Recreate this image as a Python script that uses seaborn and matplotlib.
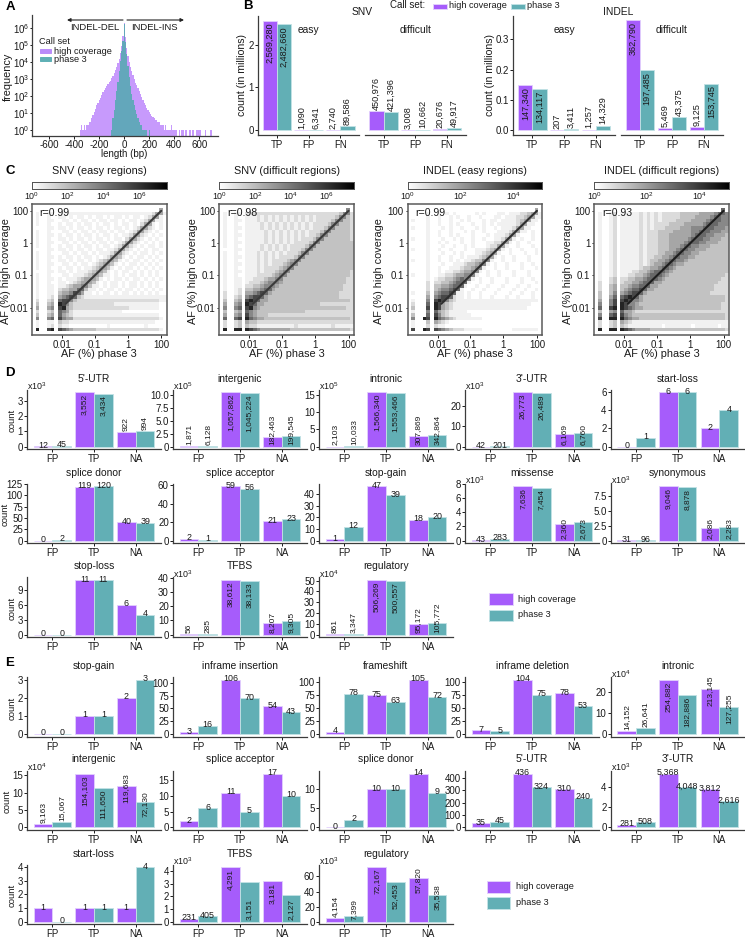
import numpy as np
import pandas as pd
import matplotlib
matplotlib.use('Agg')
import matplotlib.pyplot as plt
from matplotlib.colors import LogNorm
from matplotlib.patches import Rectangle
from matplotlib.ticker import NullLocator
import seaborn as sns

# A: length histogram, 10 bp bins
a_lengths = list(range(-350, 710, 10))
a_high = [1, 2, 1, 2, 1, 2, 2, 3, 3, 5, 8, 12, 18, 28, 40, 55, 80, 110, 170, 230, 290, 380, 480, 620, 800,
          1100, 1500, 2200, 3300, 5000, 8500, 15000, 35000, 90000, 350000, 2000000,
          300000, 70000, 22000, 9500, 5000, 2800, 1700, 1000, 600, 420, 300, 190, 130, 85, 60, 40, 28, 20, 14,
          12, 9, 7, 6, 5, 4, 4, 3, 3, 2, 2, 2, 1, 2, 1, 1, 1, 1, 2, 1, 1, 1, 1, 0, 1, 0, 1, 1, 0, 1, 1, 0, 1, 1,
          0, 1, 0, 0, 1, 1, 1, 1, 0, 0, 0, 1, 0, 0, 0, 1, 1]
a_phase3 = [0] * 25 + [1, 5, 16, 60, 200, 700, 3000, 12000, 45000, 180000, 1800000,
            150000, 28000, 5500, 1300, 400, 130, 60, 28, 15, 9, 5, 3, 2, 2, 1, 1, 1, 1, 0, 1] + [0] * 50

# B: call set comparison, SNV and INDEL
b_cats = ['TP', 'FP', 'FN']
snv_easy_high = [2569280, 1090, 2740]
snv_easy_phase3 = [2482660, 6341, 89586]
snv_diff_high = [450976, 3008, 20676]
snv_diff_phase3 = [421396, 10662, 49917]
indel_easy_high = [147340, 207, 1257]
indel_easy_phase3 = [134117, 3411, 14329]
indel_diff_high = [362790, 5469, 9125]
indel_diff_phase3 = [197485, 43375, 153745]

# C: log density grids, one digit per cell (0 white ... 9 black), top row first
snv_easy_grid = [
    "0",
    "0000000 000000000000000000000000000 4",
    "0100110 1111111111111111111111111 2 44 1",
    "0100100 110101101011010110101101 2 44 10",
    "0100110 01101011010110110101101 2 44 110",
    "0100100 1011010110101101011010 2 44 1010",
    "0000110 110101101011010110101 2 44 21010",
    "0100100 01101011010110101101 2 44 210100",
    "0100110 1011010110101101011 2 44 2101010",
    "0100100 110101101011010110 2 44 21010100",
    "0100110 0110101101011010 12 44 210101010",
    "0100100 101101011010110 12 44 2101011010",
    "0000110 11010110101101 12 44 21010101100",
    "0100100 0110101101011 12 44 210101101010",
    "0100110 101101011010 12 44 3101011010100",
    "0100100 1101011010 123 44 31010110101010",
    "0100110 011010110 123 44 310101101010100",
    "0100100 10110101 123 44 3101011010101010",
    "0000110 1101011 123 44 31010110101010100",
    "0100100 011011 123 44 311010101101010100",
    "0100110 1011 1234 44 3101011010110101010",
    "0100100 110 1234 44 31010110101101010100",
    "0100110 1 12344 55 311010110101101010100",
    "0100110 23344 66 3110101101011010101010",
    "0100110 3445 76 41101011010110101010100",
    "0100120 456 76 321111111111111111111111",
    "0200230 67 75 3222222222222222222222211",
    "0300340 8 75 32222222222211111111111100",
    "0400450 78 432222222222222221111111100",
    "0200230 65 421111111111111000000000000",
    "0300340 64 321111111111111111111111100",
    "0500560 75 442222222222222222222222210",
    "0100110 32 211111111111111111111111000",
    "0100120 21 100000000001000000000100000",
    "0800780 76 543333332222222222222222210",
    "0",
]
snv_diff_grid = [
    "0",
    "0000000 000000000000000000000000000 5",
    "0100110 2222222222222222222222222 3 55 2",
    "0100100 111212121212121212122222 3 55 32",
    "0100110 11121212121212121212222 3 55 332",
    "0100100 1111212121212121212222 3 55 3332",
    "0100110 111121212121212121222 3 55 33332",
    "0100100 11111212121212121222 3 55 333332",
    "0100110 1111121212121212122 3 55 3333332",
    "0100100 111112121212121222 3 55 33333332",
    "0100110 1111121212121222 23 55 333333333",
    "0100100 111121212121222 23 55 3333333333",
    "0000110 11112121212122 23 55 33333333333",
    "0100100 1112121212122 23 55 333333333333",
    "0100110 111212121222 23 55 3333333333333",
    "0100100 1112121222 234 55 33333333333333",
    "0100110 111212122 234 55 333333333333333",
    "0100100 11121222 234 55 3333333333333333",
    "0100110 1112122 234 55 33333333333333332",
    "0100100 111222 234 55 333333333333333332",
    "0100110 1122 2344 55 3333333333333333322",
    "0100110 122 2345 55 43333333333333333322",
    "0100110 2 23345 55 433333333333333333222",
    "0100120 33445 66 4333333333333333333222",
    "0200120 4456 76 43333333333333333332222",
    "0200230 567 76 433333333333333333332222",
    "0300340 78 76 4433333333333333333333332",
    "0400450 8 76 44333333333333333222222222",
    "0500560 78 543333333333333333333333322",
    "0300340 65 433333333333332222222222222",
    "0400450 75 433322222222222222222222222",
    "0600670 86 544333333333333333333333332",
    "0200230 43 322222222222222222222222222",
    "0200230 32 211111111112111111111211111",
    "0800880 87 654444444433333333333333332",
    "0",
]
indel_easy_grid = [
    "0",
    "0000000 000000000000000000000000000 4",
    "0000010 0101010000010100011011 1223 44 1",
    "0000010 010010100100100011011 1223 44 11",
    "0100010 01001001010001011011 1123 44 110",
    "0000010 0100101000100101011 1112 44 1100",
    "0100010 0010100100010100101 112 44 11000",
    "0000010 010010001010010001 112 44 110100",
    "0000010 01001010001000101 112 44 1000100",
    "0100010 0010010100100100 112 44 10100100",
    "0000010 010100010010001 122 44 101001000",
    "0000010 00100100101000 122 44 1001000100",
    "0100010 010010001001 1123 44 10100100010",
    "0000010 00100101000 1123 44 100100010010",
    "0000010 0100100101 1123 44 1010010001000",
    "0100010 01001010 11233 55 10010010001000",
    "0000010 0010011 12334 55 101001000100100",
    "0000010 01001 112334 55 1001001000100010",
    "0000010 0101 122344 55 10100100010001000",
    "0100010 01 1223445 55 100100100010001000",
    "0000010 12233456 55 1010010001000100100",
    "0000020 2233456 66 10010010001000100010",
    "0000020 334456 66 100100100010001001000",
    "0000020 34556 76 1001001000100010010010",
    "0100030 4566 76 11010010001000100100100",
    "0000040 567 76 211010010010001001000100",
    "0100050 78 75 3211111111111111111111110",
    "0200060 8 74 32111111111111111111111000",
    "0300070 87 432111111111111111111110000",
    "0100050 64 321111100000000000000000000",
    "0300060 75 321111110000000000000000000",
    "0500870 86 543211111110000000000000000",
    "0100030 43 210000000000000000000000000",
    "0100020 21 100000000000000000000000000",
    "0700870 76 543222111110000000011111110",
    "0",
]
indel_diff_grid = [
    "0",
    "0000000 000000000000000000000000000 6",
    "0100120 11111212121222223333344445 66 5",
    "0100120 1111121212122222333344445 66 55",
    "0100120 111112121212222333344445 66 655",
    "0100120 11111212122223333444445 66 6555",
    "0100120 1111121212223333444555 66 65554",
    "0100120 111112122233334444455 66 655544",
    "0100120 11111212223334444445 66 6554443",
    "0100120 1111121222333444445 66 65544433",
    "0100120 111112122233344445 66 655444333",
    "0100120 11111212223334445 66 5544433333",
    "0100120 1111121222333445 66 55444333333",
    "0100120 111112122233445 66 554433333333",
    "0100120 11111212233445 66 5544333333333",
    "0100120 1111121233445 66 55433333333333",
    "0100120 111112123445 66 544333333333333",
    "0100120 11111233445 66 5433333333333333",
    "0100120 1112233456 66 54333333333333333",
    "0100120 112233456 66 543333333333333332",
    "0100230 22334456 66 5433333333333333322",
    "0200230 2334456 66 44333333333333333222",
    "0200340 334556 66 443333333333333332222",
    "0200340 34566 76 4433333333333333332222",
    "0300350 4567 76 43333333333333333322222",
    "0300460 678 76 433333333333333333333332",
    "0400570 78 75 5433333333333333333333332",
    "0500570 8 75 54333333333333333333333322",
    "0600780 87 654433333333333333333333322",
    "0300450 64 432222222222222222222222222",
    "0500670 75 433333333333333333333333332",
    "0700880 86 544333333333333333333333332",
    "0200230 43 211111111111111111111111111",
    "0200230 32 111111111011111110111111011",
    "0800880 87 654444333333333333333333332",
    "0",
]
c_titles = ['SNV (easy regions)', 'SNV (difficult regions)', 'INDEL (easy regions)', 'INDEL (difficult regions)']
c_r = ['r=0.99', 'r=0.98', 'r=0.99', 'r=0.93']
c_vmax = [7.5, 7.5, 5.1, 5.1]
c_cbar_ticks = [[0, 2, 4, 6], [0, 2, 4, 6], [0, 2, 4], [0, 2, 4]]
af_labels = ['0.01', '0.1', '1', '100']
# dark ridge along the diagonal, in grid cells
ridge_col = [9.0, 34.6]
ridge_row = [27.4, 1.8]
ridge_grey = ['#3a3a3a', '#3a3a3a', '#2e2e2e', '#1e1e1e']

# D / E: FP, TP, NA counts per annotation
bar_cats = ['FP', 'TP', 'NA']
d_titles = ["5'-UTR", 'intergenic', 'intronic', "3'-UTR", 'start-loss',
            'splice donor', 'splice acceptor', 'stop-gain', 'missense', 'synonymous',
            'stop-loss', 'TFBS', 'regulatory']
d_high = [[12, 3552, 922], [1871, 1057862, 182463], [2103, 1566340, 307869], [42, 26773, 6169], [0, 6, 2],
          [0, 119, 40], [2, 59, 21], [1, 47, 18], [43, 7636, 2360], [31, 9046, 2086],
          [0, 11, 6], [56, 38612, 8207], [861, 506269, 95172]]
d_phase3 = [[45, 3434, 994], [6128, 1045224, 199545], [10033, 1553466, 342864], [201, 26489, 6760], [1, 6, 4],
            [2, 120, 39], [1, 56, 23], [12, 39, 20], [283, 7454, 2673], [96, 8878, 2283],
            [0, 11, 4], [285, 38133, 9305], [3347, 500557, 105772]]
d_ticks = [[0, 1, 2, 3], [0, 2.5, 5.0, 7.5, 10.0], [0, 5, 10, 15], [0, 10, 20], [0, 2, 4, 6],
           [0, 25, 50, 75, 100, 125], [0, 20, 40, 60], [0, 10, 20, 30, 40], [0, 2, 4, 6, 8], [0, 2.5, 5.0, 7.5],
           [0, 3, 6, 9], [0, 10, 20, 30, 40], [0, 10, 20, 30, 40, 50]]
d_exp = [3, 5, 5, 3, 0, 0, 0, 0, 3, 3, 0, 3, 4]
e_titles = ['stop-gain', 'inframe insertion', 'frameshift', 'inframe deletion', 'intronic',
            'intergenic', 'splice acceptor', 'splice donor', "5'-UTR", "3'-UTR",
            'start-loss', 'TFBS', 'regulatory']
e_high = [[0, 1, 2], [3, 106, 54], [4, 75, 105], [7, 104, 78], [14152, 254882, 213145],
          [9163, 154103, 119683], [2, 11, 17], [0, 10, 14], [35, 436, 310], [281, 5368, 3812],
          [1, 1, 1], [231, 4291, 3181], [4154, 72167, 57820]]
e_phase3 = [[0, 1, 3], [16, 70, 43], [78, 63, 72], [5, 75, 53], [26641, 182886, 127255],
            [15067, 111650, 72130], [6, 5, 10], [2, 10, 9], [45, 324, 240], [508, 4048, 2616],
            [0, 1, 4], [405, 3151, 2127], [7399, 52453, 35538]]
e_ticks = [[0, 1, 2, 3], [0, 25, 50, 75, 100], [0, 25, 50, 75, 100], [0, 25, 50, 75, 100], [0, 10, 20],
           [0, 5, 10, 15], [0, 5, 10, 15], [0, 5, 10], [0, 100, 200, 300, 400], [0, 2, 4],
           [0, 1, 2, 3, 4], [0, 1, 2, 3, 4], [0, 20, 40, 60]]
e_exp = [0, 0, 0, 0, 4, 4, 0, 0, 0, 3, 0, 3, 3]

# label placement per bar: h flat, u above, i inside top, b from base, c across top
d_modes = ['hhiiuu', 'uuiibb', 'uuiibb', 'hhiibb', 'hhhhhh',
           'hhhhhh', 'hhhhhh', 'hhhhhh', 'hhiibb', 'hhiibb',
           'hhhhhh', 'uuiibb', 'uuiibb']
e_modes = ['hhhhhh', 'hhhhhh', 'hhhhhh', 'hhhhhh', 'uuiicc',
           'uuiicc', 'hhhhhh', 'hhhhhh', 'hhhhhh', 'hhhhhh',
           'hhhhhh', 'hhibib', 'ubiicc']

W, H = 745, 938
PURPLE, TEAL = '#a65cfb', '#62afb5'
EDGE_P, EDGE_T = '#e2d0fd', '#c2e2e5'
TXT = '#1a1a1a'
LINE = '#3c3c3c'

sns.set_style('ticks')
plt.rcParams['font.family'] = ['Liberation Sans', 'DejaVu Sans']
plt.rcParams['mathtext.default'] = 'regular'
plt.rcParams.update({'axes.linewidth': 0.9, 'axes.edgecolor': LINE, 'xtick.color': TXT, 'ytick.color': TXT,
                     'text.color': TXT, 'xtick.major.size': 2.2, 'ytick.major.size': 2.2,
                     'xtick.major.width': 0.7, 'ytick.major.width': 0.7, 'xtick.major.pad': 1.5,
                     'ytick.major.pad': 1, 'xtick.labelsize': 7, 'ytick.labelsize': 7})

fig = plt.figure(figsize=(W / 100, H / 100), dpi=100)


def px_axes(l, t, r, b):
    return fig.add_axes([l / W, 1 - b / H, (r - l) / W, (b - t) / H])


def ftext(x, y, s, size=6.6, ha='center', va='center', **kw):
    fig.text(x / W, 1 - y / H, s, fontsize=size, ha=ha, va=va, **kw)


def frect(x0, y0, x1, y1, color, edge=None):
    fig.add_artist(Rectangle((x0 / W, 1 - y1 / H), (x1 - x0) / W, (y1 - y0) / H, transform=fig.transFigure,
                             facecolor=color, edgecolor=edge or color, linewidth=0.7))


def bars(ax, cats, high, phase, modes, size=6.4, rsize=6.0):
    df = pd.DataFrame({'cat': cats * 2, 'count': high + phase,
                       'set': ['high coverage'] * 3 + ['phase 3'] * 3})
    sns.barplot(data=df, x='cat', y='count', hue='set', order=cats, hue_order=['high coverage', 'phase 3'],
                palette=[PURPLE, TEAL], width=0.9, gap=0, saturation=1, errorbar=None, legend=False, ax=ax)
    for h, (cont, edge) in enumerate(zip(ax.containers, [EDGE_P, EDGE_T])):
        for c, bar in enumerate(cont):
            bar.set_edgecolor(edge)
            bar.set_linewidth(0.6)
            mode = modes[2 * c + h]
            x = bar.get_x() + bar.get_width() / 2
            v = bar.get_height()
            txt = f'{int(round(v)):,}'
            rot, va, y, dy = {'h': (0, 'center', v, 1.0), 'u': (90, 'bottom', v, 1.2), 'i': (90, 'top', v, -1.5),
                              'b': (90, 'bottom', 0, 2.0), 'c': (90, 'center', v, -2.0)}[mode]
            ax.annotate(txt, (x, y), xytext=(0, dy * 0.72), textcoords='offset points', rotation=rot,
                        ha='center', va=va, fontsize=size if rot == 0 else rsize, color=TXT,
                        annotation_clip=False)
    ax.set_xlim(-0.6, 2.6)
    ax.set_xlabel('')
    ax.set_ylabel('')
    ax.patch.set_alpha(0)
    sns.despine(ax=ax)


def lift_bars(ax, floor=0.3):
    # bars that start at 0 do not draw on a log axis
    for b in ax.patches:
        top = b.get_height()
        if top <= floor:
            b.set_visible(False)
        else:
            b.set_y(floor)
            b.set_height(top - floor)


# panel letters
for let, x, y in [('A', 10, 7), ('B', 248, 6), ('C', 10, 171), ('D', 10, 373), ('E', 10, 663)]:
    ftext(x, y, let, size=9.5, fontweight='bold', color='black')

# A
ax = px_axes(32, 15, 218, 136)
edges = np.arange(-355, 715, 10).tolist()
sns.histplot(x=a_lengths, weights=a_high, bins=edges, color='#a65cfb', alpha=0.62, linewidth=0,
             log_scale=(False, True), ax=ax)
sns.histplot(x=a_lengths, weights=a_phase3, bins=edges, color='#58a9b4', alpha=0.9, linewidth=0, ax=ax)
lift_bars(ax)
ax.set_xlim(-738, 750)
ax.set_ylim(10 ** -0.353, 10 ** 6.76)
ax.set_yticks([10.0 ** k for k in range(7)])
ax.set_yticklabels([f'10$^{{{k}}}$' for k in range(7)])
ax.yaxis.set_minor_locator(NullLocator())
ax.set_xticks([-600, -400, -200, 0, 200, 400, 600])
ax.set_xticklabels(['-600', '-400', '-200', '0', '200', '400', '600'])
ax.tick_params(axis='y', length=1.5, pad=0.5)
ax.tick_params(axis='x', pad=0.8)
ax.set_xlabel('')
ax.set_ylabel('')
sns.despine(ax=ax)
ftext(8, 77, 'frequency', size=7.8, rotation=90)
ftext(124, 154, 'length (bp)', size=7)
ftext(39.3, 41.5, 'Call set', size=6.6, ha='left')
frect(39.5, 49.5, 51, 53, '#b98cf9')
frect(39.5, 57.5, 51, 61, '#5fb0b5')
ftext(53.5, 51, 'high coverage', size=6.6, ha='left')
ftext(53.5, 59, 'phase 3', size=6.6, ha='left')
ftext(95, 27, 'INDEL-DEL', size=6.8)
ftext(154, 27, 'INDEL-INS', size=6.8)
ax.annotate('', xy=(67, H - 20), xytext=(123, H - 20), xycoords='figure pixels', textcoords='figure pixels',
            arrowprops=dict(arrowstyle='-|>', color='#222222', lw=0.8, mutation_scale=5, shrinkA=0, shrinkB=0))
ax.annotate('', xy=(184, H - 20), xytext=(127, H - 20), xycoords='figure pixels', textcoords='figure pixels',
            arrowprops=dict(arrowstyle='-|>', color='#222222', lw=0.8, mutation_scale=5, shrinkA=0, shrinkB=0))

# B
b_panels = [(258, 359.3, snv_easy_high, snv_easy_phase3, 'iiuuuu', 'easy'),
            (364.6, 466, snv_diff_high, snv_diff_phase3, 'uuuuuu', 'difficult'),
            (513.3, 615, indel_easy_high, indel_easy_phase3, 'iiuuuu', 'easy'),
            (620.7, 723.3, indel_diff_high, indel_diff_phase3, 'iiuuui', 'difficult')]
for i, (l, r, hi, ph, modes, name) in enumerate(b_panels):
    ax = px_axes(l, 16, r, 135)
    bars(ax, b_cats, hi, ph, modes, size=6.6, rsize=6.6)
    if i < 2:
        ax.set_ylim(-118000, 2680000)
        ticks, labs = [0, 1e6, 2e6], ['0', '1', '2']
    else:
        ax.set_ylim(-16500, 377000)
        ticks, labs = [0, 1e5, 2e5, 3e5], ['0.0', '0.1', '0.2', '0.3']
    ax.set_yticks(ticks)
    ax.set_yticklabels(labs)
    if i % 2:
        sns.despine(ax=ax, left=True)
        ax.tick_params(axis='y', length=0, labelleft=False)
    ftext((l + r) / 2, 30, name, size=7.4)
ftext(242, 75, 'count (in millions)', size=7.6, rotation=90)
ftext(490, 75, 'count (in millions)', size=7.6, rotation=90)
ftext(362, 11.7, 'SNV', size=7.4)
ftext(617.7, 11.7, 'INDEL', size=7.4)
ftext(390, 5.5, 'Call set:', size=7, ha='left')
frect(432.7, 4, 446.7, 9.3, PURPLE, EDGE_P)
ftext(448.5, 5.7, 'high coverage', size=6.6, ha='left')
frect(511, 4, 525, 9.3, TEAL, EDGE_T)
ftext(526.7, 5.7, 'phase 3', size=6.6, ha='left')

# C
c_grids = [snv_easy_grid, snv_diff_grid, indel_easy_grid, indel_diff_grid]
c_left = [32, 219.3, 407.7, 594.3]
c_ylab = [5.7, 193, 379.3, 568.3]
for i, grid in enumerate(c_grids):
    l = c_left[i]
    r = l + 134.5
    digits = np.array([[int(ch) for ch in row.replace(' ', '').ljust(36, '0')] for row in grid])
    counts = 10.0 ** ((digits / 9.0) ** 1.3 * c_vmax[i])
    ax = px_axes(l, 204.3, r, 335)
    cax = px_axes(l, 181.7, r, 189.3)
    ticks = [10.0 ** k for k in c_cbar_ticks[i]]
    sns.heatmap(counts, ax=ax, cbar_ax=cax, cmap='gray_r', norm=LogNorm(1, 10 ** c_vmax[i]),
                xticklabels=False, yticklabels=False, rasterized=True,
                cbar_kws={'orientation': 'horizontal', 'ticks': ticks})
    sns.lineplot(x=ridge_col, y=ridge_row, color=ridge_grey[i], linewidth=1.5, ax=ax, estimator=None, sort=False)
    cax.xaxis.set_minor_locator(NullLocator())
    cax.set_xticks(ticks)
    cax.set_xticklabels([f'10$^{{{k}}}$' for k in c_cbar_ticks[i]])
    cax.tick_params(length=0, pad=1, labelsize=6.4)
    for s in cax.spines.values():
        s.set_visible(True)
        s.set_color('#555555')
        s.set_linewidth(0.7)
    ax.set_xticks([7.98, 16.75, 25.6, 34.6])
    ax.set_xticklabels(af_labels)
    ax.set_yticks([1.78, 10.7, 19.5, 28.5])
    ax.set_yticklabels(af_labels[::-1], rotation=0)
    ax.tick_params(length=1.8)
    ax.set_xlim(0, 36)
    ax.set_ylim(36, 0)
    for s in ax.spines.values():
        s.set_visible(True)
        s.set_color('#5a5a5a')
        s.set_linewidth(1.1)
    ftext(l + 7.5, 212.5, c_r[i], size=7.6, ha='left')
    ftext((l + r) / 2, 170.5, c_titles[i], size=7.8)
    ftext((l + r) / 2, 354, 'AF (%) phase 3', size=7.8)
    ftext(c_ylab[i], 271, 'AF (%) high coverage', size=7.8, rotation=90)

# D and E bar grids
col_left = [27.3, 173.3, 319.3, 465.3, 611]
d_rows = [(389.6, 449.3, 379), (483.5, 543.3, 473), (577.3, 637.3, 566)]
e_rows = [(677.2, 736.7, 665.7), (771, 830, 759.3), (864.6, 924.3, 854.3)]
for rows, titles, hi, ph, tks, exps, modes, ylab_x in [
        (d_rows, d_titles, d_high, d_phase3, d_ticks, d_exp, d_modes, [12, 5, 12]),
        (e_rows, e_titles, e_high, e_phase3, e_ticks, e_exp, e_modes, [12, 7, 12])]:
    for i, name in enumerate(titles):
        top, bottom, ty = rows[i // 5]
        l = col_left[i % 5]
        ax = px_axes(l, top, l + 133.4, bottom)
        bars(ax, bar_cats, hi[i], ph[i], modes[i])
        m = max(hi[i] + ph[i])
        ax.set_ylim(-0.05 * m, 1.05 * m)
        ax.set_yticks([t * 10 ** exps[i] for t in tks[i]])
        ax.set_yticklabels([str(t) for t in tks[i]])
        ftext(l + 66.7, ty, name, size=7.4)
        if exps[i]:
            ftext(l, top - 3.5, f'x10$^{{{exps[i]}}}$', size=6.4, ha='left')
        if i % 5 == 0:
            ftext(ylab_x[i // 5], (top + bottom) / 2 + 1, 'count', size=6.8, rotation=90)

# shared legends
frect(489.3, 593.3, 512.5, 605, PURPLE, EDGE_P)
frect(489.3, 609.5, 512.5, 621, TEAL, EDGE_T)
ftext(518, 599, 'high coverage', size=6.6, ha='left')
ftext(518, 614.7, 'phase 3', size=6.6, ha='left')
frect(487.3, 880.5, 510, 892.5, PURPLE, EDGE_P)
frect(487.3, 896.7, 510, 908.7, TEAL, EDGE_T)
ftext(515.7, 886, 'high coverage', size=6.6, ha='left')
ftext(515.7, 902, 'phase 3', size=6.6, ha='left')

fig.savefig('out.png', dpi=100)
plt.close(fig)
